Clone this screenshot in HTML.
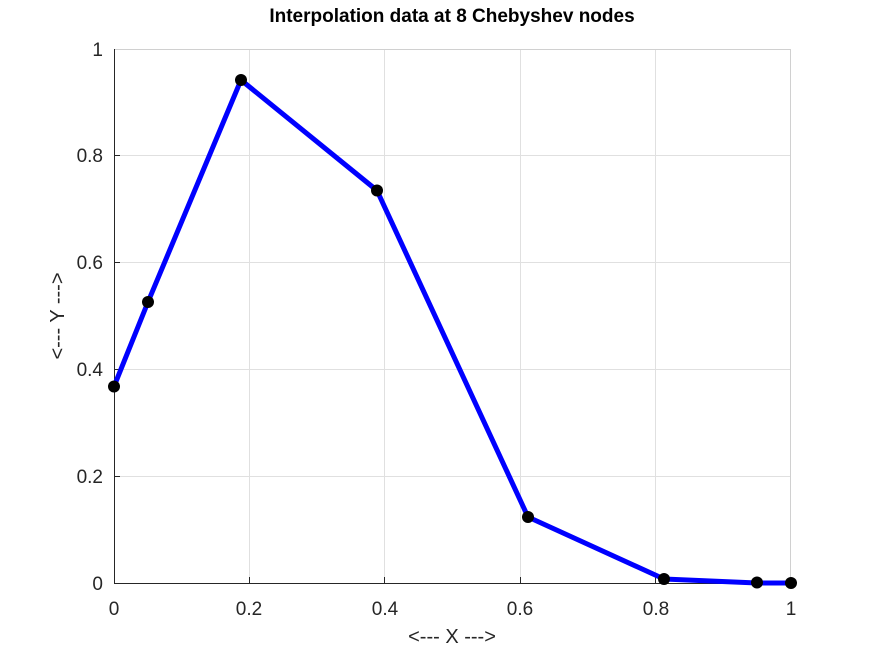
<!DOCTYPE html>
<html><head><style>body{margin:0;background:#fff}</style></head><body>
<svg width="873" height="655" xmlns="http://www.w3.org/2000/svg" font-family="Liberation Sans, sans-serif">
<rect width="873" height="655" fill="#fff"/>
<g stroke="#e0e0e0" stroke-width="1">
<line x1="249.5" y1="49" x2="249.5" y2="583"/>
<line x1="384.5" y1="49" x2="384.5" y2="583"/>
<line x1="520.5" y1="49" x2="520.5" y2="583"/>
<line x1="655.5" y1="49" x2="655.5" y2="583"/>
<line x1="114" y1="476.5" x2="791" y2="476.5"/>
<line x1="114" y1="369.5" x2="791" y2="369.5"/>
<line x1="114" y1="262.5" x2="791" y2="262.5"/>
<line x1="114" y1="155.5" x2="791" y2="155.5"/>
<line x1="114" y1="49.5" x2="791" y2="49.5" stroke="#d0d0d0"/>
<line x1="790.5" y1="49" x2="790.5" y2="583" stroke="#d0d0d0"/>
</g>
<g stroke="#262626">
<line x1="114.5" y1="49" x2="114.5" y2="583.5"/>
<line x1="114" y1="583.5" x2="791" y2="583.5"/>
<line x1="249.5" y1="583" x2="249.5" y2="577"/><line x1="384.5" y1="583" x2="384.5" y2="577"/>
<line x1="520.5" y1="583" x2="520.5" y2="577"/><line x1="655.5" y1="583" x2="655.5" y2="577"/>
<line x1="114" y1="476.5" x2="120" y2="476.5"/><line x1="114" y1="369.5" x2="120" y2="369.5"/>
<line x1="114" y1="262.5" x2="120" y2="262.5"/><line x1="114" y1="155.5" x2="120" y2="155.5"/>
</g>
<polyline points="114,386.5 148,302 241,80 377,190.5 528,517 664,579 757,583 791,583" fill="none" stroke="#0000ff" stroke-width="5" stroke-linejoin="round"/>
<g fill="#000">
<circle cx="114" cy="386.5" r="6"/><circle cx="148" cy="302" r="6"/><circle cx="241" cy="80" r="6"/>
<circle cx="377" cy="190.5" r="6"/><circle cx="528" cy="517" r="6"/><circle cx="664" cy="579" r="6"/>
<circle cx="757" cy="582.5" r="6"/><circle cx="791" cy="583" r="6"/>
</g>
<g font-size="19" fill="#262626" text-anchor="middle">
<text x="114" y="615">0</text><text x="249" y="615">0.2</text><text x="385" y="615">0.4</text>
<text x="520" y="615">0.6</text><text x="656" y="615">0.8</text><text x="791" y="615">1</text>
</g>
<g font-size="19" fill="#262626" text-anchor="end">
<text x="103" y="590">0</text><text x="103" y="483">0.2</text><text x="103" y="376">0.4</text>
<text x="103" y="269">0.6</text><text x="103" y="162">0.8</text><text x="103" y="56">1</text>
</g>
<text x="452" y="643" font-size="20" fill="#262626" text-anchor="middle">&lt;--- X ---&gt;</text>
<text transform="translate(64,316) rotate(-90)" font-size="20" fill="#262626" text-anchor="middle">&lt;--- Y ---&gt;</text>
<text x="452" y="22" font-size="19" font-weight="bold" fill="#000" text-anchor="middle">Interpolation data at 8 Chebyshev nodes</text>
</svg>
</body></html>
